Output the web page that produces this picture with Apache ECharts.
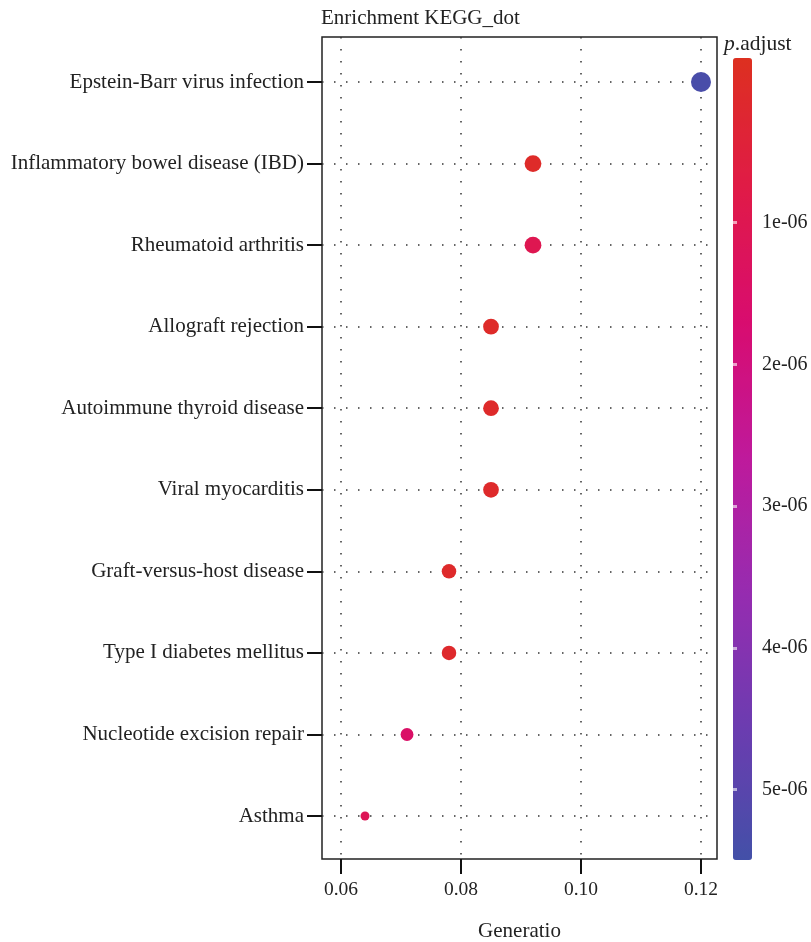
<!DOCTYPE html>
<html>
<head>
<meta charset="utf-8">
<title>Enrichment KEGG_dot</title>
<script src="https://cdn.jsdelivr.net/npm/echarts@6/dist/echarts.min.js"></script>
<style>
  html, body { margin: 0; padding: 0; background: #fff; }
  #myChart { width: 811px; height: 942px; }
</style>
</head>
<body>
<div id="myChart"></div>
<script>
// pathways, top to bottom
var pathways = [
  'Epstein-Barr virus infection',
  'Inflammatory bowel disease (IBD)',
  'Rheumatoid arthritis',
  'Allograft rejection',
  'Autoimmune thyroid disease',
  'Viral myocarditis',
  'Graft-versus-host disease',
  'Type I diabetes mellitus',
  'Nucleotide excision repair',
  'Asthma'
];
var geneRatio = [0.120, 0.092, 0.092, 0.085, 0.085, 0.085, 0.078, 0.078, 0.071, 0.064];
var geneCount = [17, 13, 13, 12, 12, 12, 11, 11, 10, 9];
var pAdjust = [5.35e-6, 0.05e-6, 1.0e-6, 0.06e-6, 0.08e-6, 0.1e-6, 0.1e-6, 0.12e-6, 1.5e-6, 1.1e-6];
var xTicks = [0.06, 0.08, 0.10, 0.12];
var colorTicks = [1e-6, 2e-6, 3e-6, 4e-6, 5e-6];

var serif = 'Liberation Serif';
var minCount = Math.min.apply(null, geneCount);
var maxCount = Math.max.apply(null, geneCount);
var rowIdx = pathways.map(function (p, i) { return i; });

var data = pathways.map(function (name, i) {
  return [geneRatio[i], i, pAdjust[i], geneCount[i], name];
});

var myChart = echarts.init(document.getElementById('myChart'));
myChart.setOption({
  animation: false,
  backgroundColor: '#fff',
  title: [{
    text: 'Enrichment KEGG_dot',
    left: 321,
    top: 8,
    padding: 0,
    textStyle: { fontFamily: serif, fontSize: 21, fontWeight: 'normal', color: '#222' }
  }, {
    text: '{i|p}.adjust',
    left: 724,
    top: 33,
    padding: 0,
    textStyle: {
      fontFamily: serif, fontSize: 21.5, fontWeight: 'normal', color: '#222',
      rich: { i: { fontFamily: serif, fontSize: 21.5, fontStyle: 'italic', color: '#222' } }
    }
  }],
  grid: [{
    left: 322, right: 94, top: 37, bottom: 83,
    outerBoundsMode: 'none',
    show: true, borderColor: '#222', borderWidth: 1.5, backgroundColor: 'transparent'
  }, {
    left: 733, width: 19, top: 58, height: 802,
    outerBoundsMode: 'none'
  }],
  visualMap: {
    type: 'continuous',
    seriesIndex: 0,
    dimension: 2,
    min: -0.162e-6,
    max: 5.496e-6,
    inverse: true,
    orient: 'vertical',
    left: 718, top: 43,
    itemWidth: 19, itemHeight: 802,
    calculable: false,
    hoverLink: false,
    inRange: { color: ['#dd3020', '#e01a48', '#d80c70', '#be1a9c', '#962cb0', '#6c3cb0', '#4350a8'] }
  },
  xAxis: [{
    type: 'value',
    min: 0.05683, max: 0.12267,
    name: 'Generatio',
    nameLocation: 'middle',
    nameGap: 62,
    nameTextStyle: { fontFamily: serif, fontSize: 21, color: '#222' },
    axisLine: { show: false, onZero: false },
    axisTick: { show: true, length: 15, customValues: xTicks, lineStyle: { color: '#111', width: 2 } },
    axisLabel: {
      customValues: xTicks, margin: 21,
      fontFamily: serif, fontSize: 19.5, color: '#222',
      formatter: function (v) { return v.toFixed(2); }
    },
    splitLine: { show: true, lineStyle: { color: '#333', width: 1.5, type: [1.5, 10.5] } }
  }, {
    gridIndex: 1, type: 'value', show: false
  }],
  yAxis: [{
    type: 'value',
    inverse: true,
    min: -0.552, max: 9.527,
    axisLine: { show: false, onZero: false },
    axisTick: { show: true, length: 15, customValues: rowIdx, lineStyle: { color: '#111', width: 2 } },
    axisLabel: {
      customValues: rowIdx,
      margin: 18, fontFamily: serif, fontSize: 21, color: '#222',
      formatter: function (v) { return pathways[v]; }
    },
    splitLine: { show: true, lineStyle: { color: '#333', width: 1.5, type: [1.5, 10.5] } }
  }, {
    gridIndex: 1, type: 'value', inverse: true, position: 'right', z: 10,
    min: -0.162e-6, max: 5.496e-6,
    axisLine: { show: false },
    splitLine: { show: false },
    axisTick: { show: true, inside: true, length: 4, customValues: colorTicks, lineStyle: { color: 'rgba(255,255,255,0.6)', width: 3 } },
    axisLabel: {
      customValues: colorTicks, margin: 10,
      fontFamily: serif, fontSize: 20, color: '#222',
      formatter: function (v) { return v.toExponential(0).replace(/e-(\d)$/, 'e-0$1'); }
    }
  }, {
    gridIndex: 1, type: 'value', inverse: true, position: 'left', z: 10,
    min: -0.162e-6, max: 5.496e-6,
    axisLine: { show: false },
    splitLine: { show: false },
    axisTick: { show: true, inside: true, length: 4, customValues: colorTicks, lineStyle: { color: 'rgba(255,255,255,0.6)', width: 3 } },
    axisLabel: { show: false }
  }],
  series: [{
    type: 'scatter',
    xAxisIndex: 0,
    yAxisIndex: 0,
    data: data,
    symbolSize: function (val) {
      // ggplot-style area scaling of gene count
      return 9 + 11 * Math.sqrt((val[3] - minCount) / (maxCount - minCount));
    },
    itemStyle: { opacity: 1 },
    z: 5
  }]
});
</script>
</body>
</html>
